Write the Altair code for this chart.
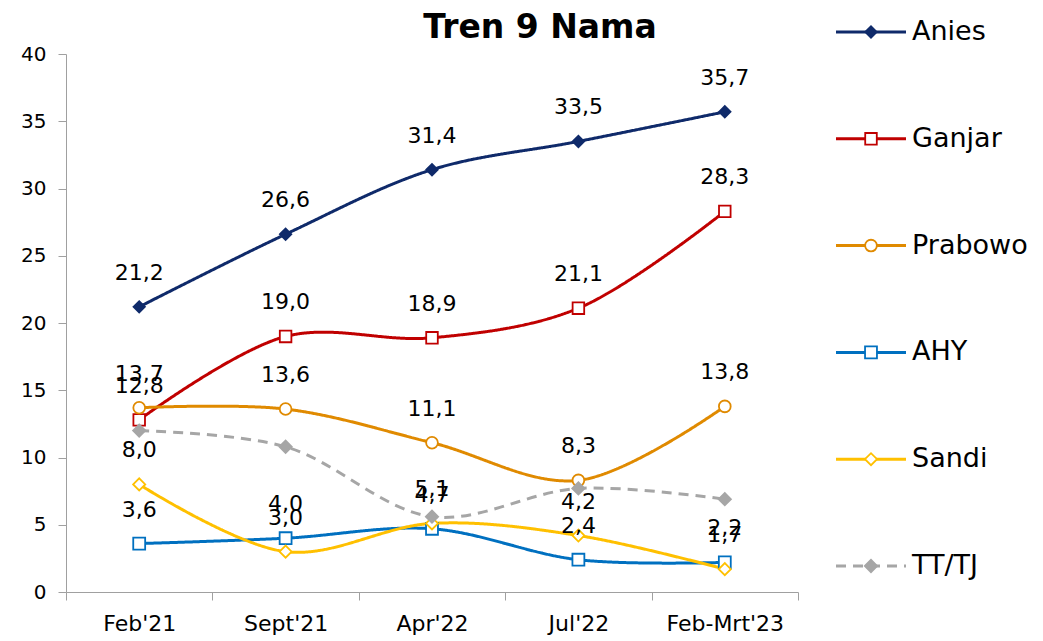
import altair as alt
import pandas as pd

series = ["Anies", "Ganjar", "Prabowo", "AHY", "Sandi", "TT/TJ"]
periods = ["Feb'21", "Sept'21", "Apr'22", "Jul'22", "Feb-Mrt'23"]
anies = [21.2, 26.6, 31.4, 33.5, 35.7]
ganjar = [12.8, 19.0, 18.9, 21.1, 28.3]
prabowo = [13.7, 13.6, 11.1, 8.3, 13.8]
ahy = [3.6, 4.0, 4.7, 2.4, 2.2]
sandi = [8.0, 3.0, 5.1, 4.2, 1.7]
tttj = [12.0, 10.8, 5.6, 7.7, 6.9]

colors = ["#0F2A6A", "#C00000", "#E08A00", "#0070C0", "#FFC000", "#A6A6A6"]
fills = ["#0F2A6A", "#FFFFFF", "#FFFFFF", "#FFFFFF", "#FFFFFF", "#A6A6A6"]
shapes = ["diamond", "square", "circle", "square", "diamond", "diamond"]
dashes = [[1, 0], [1, 0], [1, 0], [1, 0], [1, 0], [10, 7]]
sizes = [130, 150, 160, 150, 150, 130]

values = [anies, ganjar, prabowo, ahy, sandi, tttj]
rows = []
for s, vals in zip(series, values):
    for p, v in zip(periods, vals):
        rows.append({"series": s, "period": p, "value": v, "labeled": s != "TT/TJ"})
df = pd.DataFrame(rows)
leg = pd.DataFrame({"series": series})

FONT = "DejaVu Sans"

x = alt.X("period:N", sort=periods, title=None,
          scale=alt.Scale(type="band", paddingInner=0, paddingOuter=0),
          axis=alt.Axis(tickBand="extent", labelAngle=0, labelFontSize=22, labelFont=FONT,
                        labelColor="#000000", domainColor="#A0A0A0", tickColor="#A0A0A0",
                        tickSize=8, labelPadding=13, grid=False))
y = alt.Y("value:Q", title=None,
          scale=alt.Scale(domain=[0, 40], nice=False),
          axis=alt.Axis(values=[0, 5, 10, 15, 20, 25, 30, 35, 40], labelFontSize=20, labelFont=FONT,
                        labelColor="#000000", domainColor="#A0A0A0", tickColor="#A0A0A0",
                        tickSize=8, labelPadding=12, grid=False))
color = alt.Color("series:N", scale=alt.Scale(domain=series, range=colors), legend=None)
fill = alt.Fill("series:N", scale=alt.Scale(domain=series, range=fills), legend=None)
shape = alt.Shape("series:N", scale=alt.Scale(domain=series, range=shapes), legend=None)
dash = alt.StrokeDash("series:N", scale=alt.Scale(domain=series, range=dashes), legend=None)
size = alt.Size("series:N", scale=alt.Scale(domain=series, range=sizes), legend=None)

base = alt.Chart(df)
lines = base.mark_line(interpolate="catmull-rom", strokeWidth=3).encode(
    x=x, y=y, color=color, strokeDash=dash, detail="series:N")
points = base.mark_point(filled=False, strokeWidth=1.8, opacity=1).encode(
    x=x, y=y, stroke=color, fill=fill, shape=shape, size=size)
labels = base.transform_filter("datum.labeled").transform_calculate(
    lab="replace(format(datum.value, '.1f'), '.', ',')"
).mark_text(fontSize=22, font=FONT, color="#000000", dy=-34, baseline="middle").encode(
    x=x, y=y, text="lab:N")

ly = alt.Y("series:N", scale=alt.Scale(type="point", domain=series, range=[-22, 512], padding=0), axis=None)
lbase = alt.Chart(leg)
lrule = lbase.mark_rule(strokeWidth=3).encode(
    x=alt.value(770), x2=alt.value(840), y=ly, color=color, strokeDash=dash)
lpt = lbase.mark_point(filled=False, strokeWidth=1.8, opacity=1).encode(
    x=alt.value(805), y=ly, stroke=color, fill=fill, shape=shape, size=size)
ltext = lbase.mark_text(align="left", baseline="middle", fontSize=27, font=FONT, color="#000000").encode(
    x=alt.value(846), y=ly, text="series:N")

main = alt.layer(lines, points, labels)
legend = alt.layer(lrule, lpt, ltext)

chart = alt.layer(main, legend).resolve_scale(y="independent").properties(
    width=732, height=538,
    autosize=alt.AutoSizeParams(type="none"),
    padding={"left": 58, "top": 46, "right": 235, "bottom": 44},
    title=alt.TitleParams("Tren 9 Nama", fontSize=33, fontWeight="bold", font=FONT,
                          anchor="middle", dx=108, offset=-27, color="#000000"),
).configure_view(stroke=None)

chart.save("out.html", embed_options={"renderer": "svg", "actions": False})
